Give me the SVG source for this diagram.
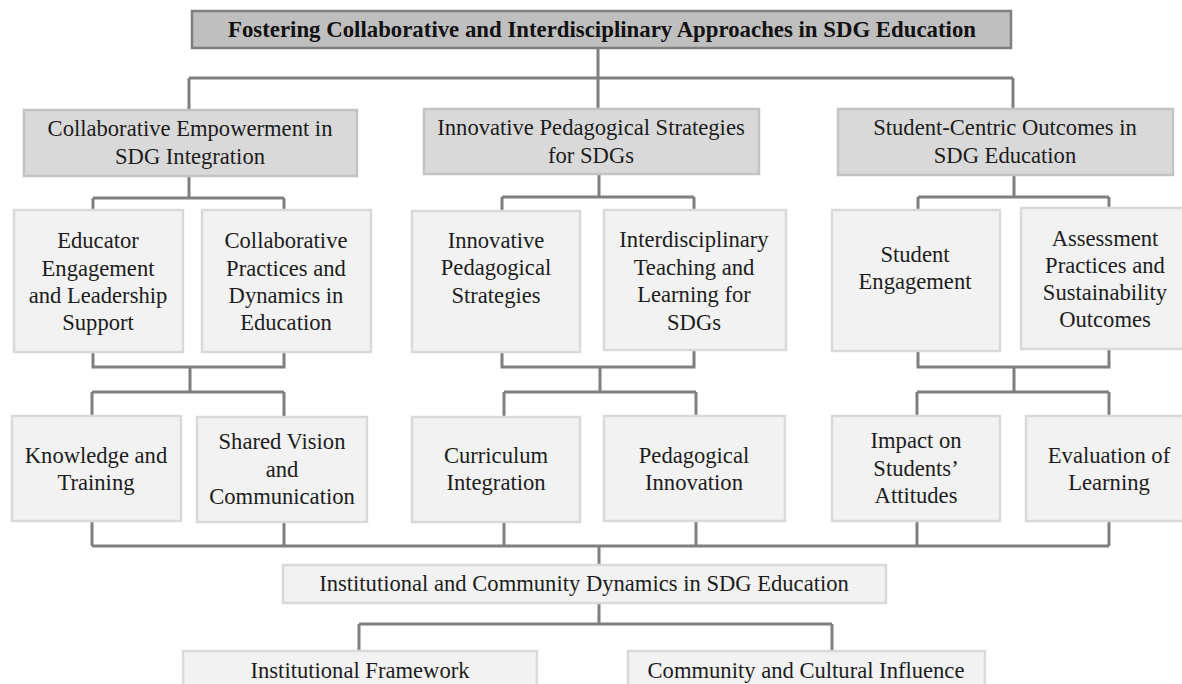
<svg xmlns="http://www.w3.org/2000/svg" width="1182" height="684" viewBox="0 0 1182 684">
  <style>
    .t { font-family: "Liberation Serif", "Times New Roman", serif; font-size: 22.6px; fill: #1c1c1c; text-anchor: middle; }
    .tb { font-family: "Liberation Serif", "Times New Roman", serif; font-size: 23.5px; font-weight: bold; fill: #111; text-anchor: middle; }
    .top { fill: #bfbfbf; stroke: #7f7f7f; stroke-width: 2.5; }
    .l1 { fill: #d9d9d9; stroke: #c3c3c3; stroke-width: 2.5; }
    .l2 { fill: #f2f2f2; stroke: #d9d9d9; stroke-width: 2.5; }
    .conn { fill: none; stroke: #7f7f7f; stroke-width: 3; }
  </style>
  <rect width="1182" height="684" fill="#ffffff"/>

  <!-- connectors -->
  <g id="connectors" class="conn">
    <path d="M598,48 V78 M189,78 H1013 M189,78 V110 M598,78 V109 M1013,78 V109"/>
    <!-- branch 1 -->
    <path d="M189,176 V198 M93,198 H284 M93,198 V210 M284,198 V210"/>
    <path d="M93,352 V367 H284 V352 M190,367 V392 M92,392 H284 M92,392 V416 M284,392 V417"/>
    <!-- branch 2 -->
    <path d="M599,174 V197 M502,197 H694 M502,197 V211 M694,197 V210"/>
    <path d="M502,352 V367 H694 V350 M600,367 V392 M504,392 H696 M504,392 V417 M696,392 V416"/>
    <!-- branch 3 -->
    <path d="M1014,175 V197 M918,197 H1109 M918,197 V210 M1109,197 V208"/>
    <path d="M918,351 V367 H1109 V349 M1014,367 V392 M917,392 H1109 M917,392 V416 M1109,392 V416"/>
    <!-- gathering line -->
    <path d="M92,521 V546 M284,522 V546 M504,522 V546 M696,521 V546 M917,521 V546 M1109,521 V546 M92,546 H1109 M599,546 V565"/>
    <!-- bottom split -->
    <path d="M599,603 V624 M359,624 H832 M359,624 V651 M832,624 V651"/>
  </g>

  <g id="root">
    <rect class="top" x="192" y="11" width="819" height="37"/>
    <text class="tb" x="602" y="37" textLength="748" lengthAdjust="spacingAndGlyphs">Fostering Collaborative and Interdisciplinary Approaches in SDG Education</text>
  </g>

  <g id="collab-empowerment">
    <rect class="l1" x="24" y="110" width="333" height="66"/>
    <text class="t" x="190" y="136">Collaborative Empowerment in</text>
    <text class="t" x="190" y="164">SDG Integration</text>
  </g>
  <g id="innovative-strategies">
    <rect class="l1" x="424" y="109" width="335" height="65"/>
    <text class="t" x="591" y="135">Innovative Pedagogical Strategies</text>
    <text class="t" x="591" y="163">for SDGs</text>
  </g>
  <g id="student-outcomes">
    <rect class="l1" x="838" y="109" width="335" height="66"/>
    <text class="t" x="1005" y="135">Student-Centric Outcomes in</text>
    <text class="t" x="1005" y="163">SDG Education</text>
  </g>

  <g id="educator-engagement">
    <rect class="l2" x="14" y="210" width="169" height="142"/>
    <text class="t" x="98" y="248">Educator</text>
    <text class="t" x="98" y="276">Engagement</text>
    <text class="t" x="98" y="303">and Leadership</text>
    <text class="t" x="98" y="330">Support</text>
  </g>
  <g id="collab-practices">
    <rect class="l2" x="202" y="210" width="169" height="142"/>
    <text class="t" x="286" y="248">Collaborative</text>
    <text class="t" x="286" y="276">Practices and</text>
    <text class="t" x="286" y="303">Dynamics in</text>
    <text class="t" x="286" y="330">Education</text>
  </g>
  <g id="innovative-pedagogical">
    <rect class="l2" x="412" y="211" width="168" height="141"/>
    <text class="t" x="496" y="248">Innovative</text>
    <text class="t" x="496" y="275">Pedagogical</text>
    <text class="t" x="496" y="303">Strategies</text>
  </g>
  <g id="interdisciplinary-teaching">
    <rect class="l2" x="604" y="210" width="182" height="140"/>
    <text class="t" x="694" y="247">Interdisciplinary</text>
    <text class="t" x="694" y="275">Teaching and</text>
    <text class="t" x="694" y="302">Learning for</text>
    <text class="t" x="694" y="330">SDGs</text>
  </g>
  <g id="student-engagement">
    <rect class="l2" x="832" y="210" width="168" height="141"/>
    <text class="t" x="915" y="262">Student</text>
    <text class="t" x="915" y="289">Engagement</text>
  </g>
  <g id="assessment-practices">
    <rect class="l2" x="1021" y="208" width="168" height="141"/>
    <text class="t" x="1105" y="246">Assessment</text>
    <text class="t" x="1105" y="273">Practices and</text>
    <text class="t" x="1105" y="300">Sustainability</text>
    <text class="t" x="1105" y="327">Outcomes</text>
  </g>

  <g id="knowledge-training">
    <rect class="l2" x="12" y="416" width="169" height="105"/>
    <text class="t" x="96" y="463">Knowledge and</text>
    <text class="t" x="96" y="490">Training</text>
  </g>
  <g id="shared-vision">
    <rect class="l2" x="197" y="417" width="170" height="105"/>
    <text class="t" x="282" y="449">Shared Vision</text>
    <text class="t" x="282" y="477">and</text>
    <text class="t" x="282" y="504">Communication</text>
  </g>
  <g id="curriculum-integration">
    <rect class="l2" x="412" y="417" width="168" height="105"/>
    <text class="t" x="496" y="463">Curriculum</text>
    <text class="t" x="496" y="490">Integration</text>
  </g>
  <g id="pedagogical-innovation">
    <rect class="l2" x="604" y="416" width="181" height="105"/>
    <text class="t" x="694" y="463">Pedagogical</text>
    <text class="t" x="694" y="490">Innovation</text>
  </g>
  <g id="impact-attitudes">
    <rect class="l2" x="832" y="416" width="168" height="105"/>
    <text class="t" x="916" y="448">Impact on</text>
    <text class="t" x="916" y="476">Students’</text>
    <text class="t" x="916" y="503">Attitudes</text>
  </g>
  <g id="evaluation-learning">
    <rect class="l2" x="1026" y="416" width="168" height="105"/>
    <text class="t" x="1109" y="463">Evaluation of</text>
    <text class="t" x="1109" y="490">Learning</text>
  </g>

  <g id="institutional-community">
    <rect class="l2" x="283" y="565" width="603" height="38"/>
    <text class="t" x="584" y="591">Institutional and Community Dynamics in SDG Education</text>
  </g>

  <g id="institutional-framework">
    <rect class="l2" x="183" y="651" width="354" height="50"/>
    <text class="t" x="360" y="678">Institutional Framework</text>
  </g>
  <g id="community-culture">
    <rect class="l2" x="628" y="651" width="357" height="50"/>
    <text class="t" x="806" y="678">Community and Cultural Influence</text>
  </g>
</svg>
